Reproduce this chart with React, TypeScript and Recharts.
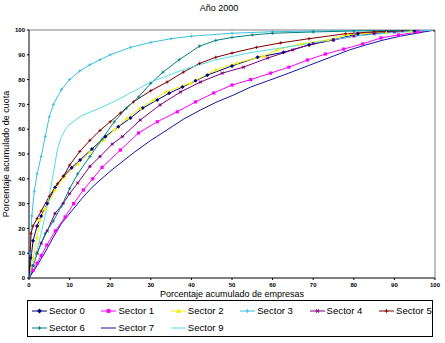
import React from 'react';
import { LineChart, Line, XAxis, YAxis, ReferenceLine, Legend, Label } from 'recharts';

// ---- data (X = % acumulado de empresas, Y = % acumulado de cuota) ----
const axisTicks = [0, 10, 20, 30, 40, 50, 60, 70, 80, 90, 100];

const sector0: [number, number][] = [[0,0],[0.5,8],[1,15],[2,21],[3,25],[4.5,30],[6.4,36.5],[8.5,41],[10.5,44.5],[12.6,47.6],[15.5,52],[18.8,57],[22,61],[25,64.5],[28,68.5],[31.6,71.8],[34.5,74.5],[37.8,77],[41,79.5],[43.9,81.8],[50,85.5],[56.3,89],[62.7,91],[69,94],[75,96],[81,98.5],[88,99.3],[95,99.7],[100,100]];
const sector1: [number, number][] = [[0,0],[1,3],[2,6],[3,9],[4.4,13.3],[6.5,19],[8.9,24.6],[11,30],[13.4,35.5],[15.7,40],[18,44.6],[22.5,51.6],[27,58.5],[31.6,63],[36.5,67],[41,71],[45.5,74.6],[50,77.8],[54.6,80],[59.5,82.6],[64,85],[68.6,87.9],[73,90.3],[77.5,92.3],[82.2,94.4],[86.7,96.8],[91,98],[95.8,99.2],[100,100]];
const sector2: [number, number][] = [[0,0],[1,8],[2,16.5],[2.7,23.4],[4,28],[6.4,35.5],[8.6,40.7],[12,46],[15,50.8],[18.3,55.6],[21.2,60],[24.2,64.5],[27.4,68.5],[30.6,71.8],[33.6,75],[39.8,78.6],[46,84],[51.3,86.7],[57.8,89.5],[61,92],[67,94.4],[73.6,96],[78.5,98.2],[88,99],[94,99.5],[100,100]];
const sector3: [number, number][] = [[0,0],[0.3,10],[0.7,25],[1.3,35],[2,42],[3,49],[4,57],[5,65],[6,70],[8,76],[10,80],[12.5,83.5],[15,86],[17.5,88],[20,90],[25,93],[30,95],[35,96.5],[40,97.5],[50,98.7],[60,99.3],[70,99.6],[80,99.8],[90,99.9],[100,100]];
const sector4: [number, number][] = [[0,0],[1,5],[2,10],[3,14],[4.5,19],[6.4,26],[8.4,30],[10,34],[12,38.3],[15,45],[17.5,49],[20.5,54],[23,57],[27.4,63.7],[32.3,69.8],[37.3,75],[42.2,79],[47.6,82.6],[52.8,85],[58.8,88.7],[65,92],[70,94.5],[75,96],[80,97.5],[85,98.5],[90,99.2],[100,100]];
const sector5: [number, number][] = [[0,0],[0.5,18],[1,21],[2,24],[3,27],[5,33],[7,38],[8.5,41],[10,45.5],[12.5,51],[15,55.5],[17.5,59.5],[20,63],[22.5,66.5],[25.7,71],[30,75.5],[34,79],[38,83],[42,86.5],[46,89],[50,90.7],[56,93],[62,94.8],[69,96.5],[78,98.5],[85,99.3],[92,99.7],[100,100]];
const sector6: [number, number][] = [[0,0],[1,5],[2,10],[4,18],[6,23],[8,29],[10,36],[12,42],[15,49],[18,56],[21,63],[24,68.5],[27,73],[30,78.5],[33,83],[37,88],[42,93.5],[46,95.8],[50,97],[55,98],[60,98.7],[70,99.2],[80,99.6],[90,99.8],[100,100]];
const sector7: [number, number][] = [[0,0],[2,5],[4,10.5],[6,16.5],[8,22],[10.5,27],[13,32],[15.5,36.5],[17.5,39.5],[20.7,44],[25.7,50.4],[30,55.5],[34,59.7],[38,64],[42.2,67.7],[46,70.8],[50.4,73.8],[54.6,77],[58.8,79.5],[62.7,81.8],[67,84.5],[71,87],[75,89.5],[79,92],[83,94],[87.4,96],[91.5,97.5],[95.8,98.8],[100,100]];
const sector9: [number, number][] = [[0,0],[1.5,8],[3,18],[4.5,29],[6,42],[7,52],[8,57],[9,60],[10,62],[13,65.5],[17.5,68.5],[22,72],[26,75.5],[30,79],[38,84],[46,88],[55,91],[67,94],[80,97.5],[90,99],[100,100]];

const seriesNames = ['Sector 0','Sector 1','Sector 2','Sector 3','Sector 4','Sector 5','Sector 6','Sector 7','Sector 9'];
const seriesData = [sector0, sector1, sector2, sector3, sector4, sector5, sector6, sector7, sector9];
const seriesColors = ['#000080','#FF00FF','#F0F000','#3EC0E0','#800080','#800000','#008080','#1414A8','#55DDEA'];
const seriesMarkers = ['diamond','square','triangle','plus','star','plus','plus','none','none'];

const toPts = (arr: [number, number][]) => arr.map(([x, y]) => ({ x, y }));

const FONT = '"Liberation Sans", Arial, sans-serif';

function Marker({ shape, cx, cy, color, s = 1 }: { shape: string; cx: number; cy: number; color: string; s?: number }) {
  if (shape === 'diamond') {
    const d = 2 * s;
    return <polygon points={`${cx},${cy - d} ${cx + d},${cy} ${cx},${cy + d} ${cx - d},${cy}`} fill={color} stroke="none" />;
  }
  if (shape === 'square') {
    const d = 1.6 * s;
    return <rect x={cx - d} y={cy - d} width={2 * d} height={2 * d} fill={color} stroke="none" />;
  }
  if (shape === 'triangle') {
    const d = 2 * s;
    return <polygon points={`${cx},${cy - d} ${cx + d},${cy + d * 0.8} ${cx - d},${cy + d * 0.8}`} fill={color} stroke="none" />;
  }
  if (shape === 'plus') {
    const d = 1.6 * s;
    return (
      <g stroke={color} strokeWidth={0.9}>
        <line x1={cx - d} y1={cy} x2={cx + d} y2={cy} />
        <line x1={cx} y1={cy - d} x2={cx} y2={cy + d} />
      </g>
    );
  }
  if (shape === 'star') {
    const d = 1.6 * s;
    return (
      <g stroke={color} strokeWidth={0.9}>
        <line x1={cx - d} y1={cy} x2={cx + d} y2={cy} />
        <line x1={cx - d * 0.7} y1={cy - d} x2={cx + d * 0.7} y2={cy + d} />
        <line x1={cx + d * 0.7} y1={cy - d} x2={cx - d * 0.7} y2={cy + d} />
      </g>
    );
  }
  return null;
}

const makeDot = (shape: string, color: string, name: string) => (props: any) => {
  const { cx, cy, index } = props;
  if (shape === 'none' || cx == null || cy == null) return <g key={`${name}-${index}`} />;
  return (
    <g key={`${name}-${index}`}>
      <Marker shape={shape} cx={cx} cy={cy} color={color} />
    </g>
  );
};

function LegendBox() {
  const colStep = 69.4;
  return (
    <div
      style={{
        position: 'relative',
        width: 406,
        height: 37,
        border: '1px solid #000',
        boxSizing: 'border-box',
        background: '#fff',
        fontFamily: FONT,
        fontSize: 9.6,
        color: '#000',
      }}
    >
      {seriesNames.map((name, i) => {
        const row = i < 6 ? 0 : 1;
        const col = i < 6 ? i : i - 6;
        const left = 4 + col * colStep;
        const top = row === 0 ? 3 : 20;
        return (
          <div key={name} style={{ position: 'absolute', left, top, height: 13, display: 'flex', alignItems: 'center', whiteSpace: 'nowrap' }}>
            <svg width={15} height={8} style={{ display: 'block' }}>
              <line x1={0} y1={4} x2={15} y2={4} stroke={seriesColors[i]} strokeWidth={1} />
              <Marker shape={seriesMarkers[i]} cx={7.5} cy={4} color={seriesColors[i]} s={1.2} />
            </svg>
            <span style={{ marginLeft: 2, lineHeight: '13px' }}>{name}</span>
          </div>
        );
      })}
    </div>
  );
}

export default function App() {
  return (
    <div style={{ position: 'absolute', left: 0, top: 0, width: 445, height: 343, background: '#fff' }}>
      <div
        style={{
          position: 'absolute',
          left: 0,
          top: 3,
          width: 438,
          textAlign: 'center',
          fontFamily: FONT,
          fontSize: 9,
          lineHeight: '11px',
          color: '#000',
        }}
      >
        Año 2000
      </div>
      <LineChart
        width={445}
        height={343}
        margin={{ top: 30, right: 10, bottom: 45, left: 0 }}
        style={{ position: 'absolute', left: 0, top: 0 }}
      >
        <XAxis
          dataKey="x"
          type="number"
          domain={[0, 100]}
          ticks={axisTicks}
          allowDataOverflow
          height={20}
          stroke="#000"
          tickSize={2}
          tickMargin={3}
          tick={{ fontSize: 6, fill: '#000', fontFamily: FONT, fontWeight: 'bold' }}
          interval={0}
        >
          <Label
            value="Porcentaje acumulado de empresas"
            position="insideBottom"
            offset={1}
            style={{ fontSize: 9, fill: '#000', fontFamily: FONT }}
          />
        </XAxis>
        <YAxis
          dataKey="y"
          type="number"
          domain={[0, 100]}
          ticks={axisTicks}
          allowDataOverflow
          width={29}
          stroke="#000"
          tickSize={2}
          tickMargin={2}
          tick={{ fontSize: 6, fill: '#000', fontFamily: FONT, fontWeight: 'bold' }}
          interval={0}
        >
          <Label
            value="Porcentaje acumulado de cuota"
            angle={-90}
            position="insideLeft"
            offset={6}
            style={{ fontSize: 9, fill: '#000', fontFamily: FONT, textAnchor: 'middle' }}
          />
        </YAxis>
        <ReferenceLine y={100} stroke="#808080" strokeWidth={1} ifOverflow="extendDomain" />
        <ReferenceLine x={100} stroke="#808080" strokeWidth={1} ifOverflow="extendDomain" />
        {seriesNames.map((name, i) => (
          <Line
            key={name}
            name={name}
            data={toPts(seriesData[i])}
            dataKey="y"
            type="linear"
            stroke={seriesColors[i]}
            strokeWidth={1}
            dot={makeDot(seriesMarkers[i], seriesColors[i], name)}
            activeDot={false}
            isAnimationActive={false}
          />
        ))}
        <Legend
          layout="horizontal"
          verticalAlign="middle"
          align="center"
          wrapperStyle={{ position: 'absolute', left: 27, top: 300, width: 406, height: 37 }}
          content={() => <LegendBox />}
        />
      </LineChart>
    </div>
  );
}
